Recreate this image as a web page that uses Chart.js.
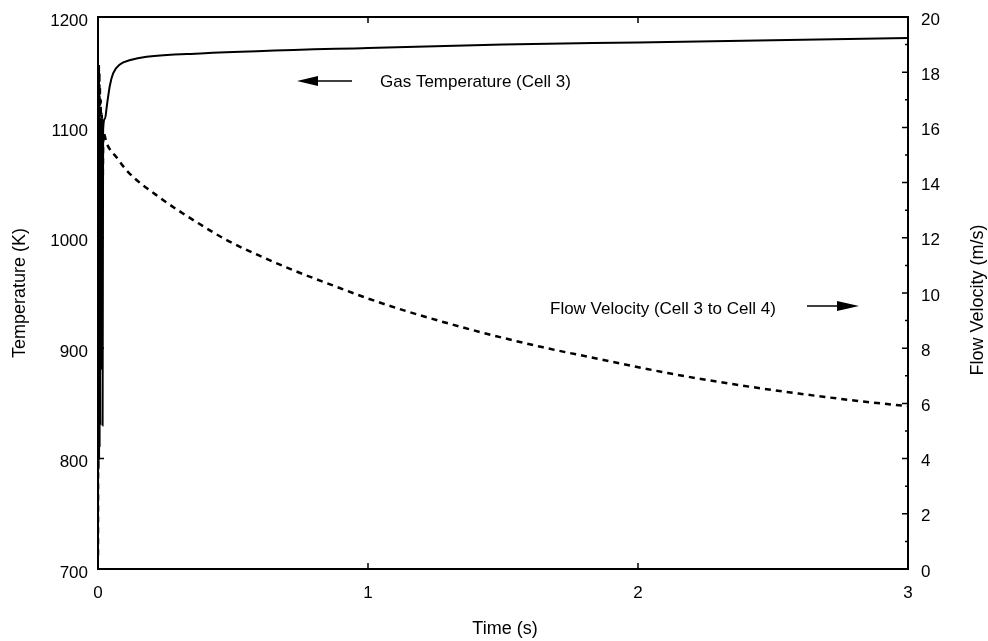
<!DOCTYPE html>
<html>
<head>
<meta charset="utf-8">
<script src="https://cdn.jsdelivr.net/npm/chart.js@4.4.1/dist/chart.umd.min.js"></script>
<style>
  body { margin: 0; background: #fff; }
  #wrap { width: 988px; height: 641px; }
</style>
</head>
<body>
<div id="wrap"><canvas id="flowChart" width="988" height="641"></canvas></div>
<script>
// gas temperature in cell 3 (K) vs time (s)
const tempTime = [0, 0.001, 0.002, 0.003, 0.004, 0.005, 0.006, 0.007, 0.008, 0.009, 0.010, 0.012, 0.014, 0.016, 0.017, 0.019, 0.026, 0.033, 0.044, 0.056, 0.081, 0.12, 0.18, 0.38, 1.0, 1.5, 2.0, 2.5, 3.0];
const tempK    = [700, 1040, 790, 1090, 800, 1100, 810, 1095, 830, 1100, 880, 1100, 960, 1090, 830, 1098, 1108, 1120, 1138, 1149, 1157, 1161, 1164, 1167, 1172, 1175, 1177, 1179, 1181];

// flow velocity cell 3 -> cell 4 (m/s) vs time (s)
const velTime = [0, 0.001, 0.002, 0.003, 0.004, 0.005, 0.006, 0.007, 0.008, 0.010, 0.012, 0.014, 0.016, 0.020, 0.033, 0.07, 0.11, 0.237, 0.36, 0.48, 0.61, 0.73, 0.89, 1.0, 1.14, 1.39, 1.64, 1.86, 2.11, 2.35, 2.6, 2.85, 3.0];
const velocity = [0.5, 17, 4, 18.3, 6, 18, 8, 17.5, 9, 17, 11, 16.5, 13, 15.8, 15.4, 14.9, 14.4, 13.4, 12.6, 11.9, 11.3, 10.8, 10.2, 9.8, 9.35, 8.65, 8.05, 7.6, 7.1, 6.7, 6.35, 6.05, 5.9];

const xTicks = [0, 1, 2, 3];
const tempTicks = [700, 800, 900, 1000, 1100, 1200];
const velTicks = [0, 2, 4, 6, 8, 10, 12, 14, 16, 18, 20];

const font = 'Liberation Sans, Arial, sans-serif';

const framePlugin = {
    id: 'frame',
    afterDraw(chart) {
        const c = chart.ctx;
        const a = chart.chartArea;
        const xs = chart.scales.x, yl = chart.scales.yT, yr = chart.scales.yV;
        c.save();
        c.strokeStyle = '#000';
        c.fillStyle = '#000';
        c.lineWidth = 2;
        c.strokeRect(a.left, a.top, a.right - a.left, a.bottom - a.top);

        // inward ticks
        c.lineWidth = 1.5;
        c.beginPath();
        tempTicks.forEach(v => {
            const y = yl.getPixelForValue(v);
            c.moveTo(a.left, y); c.lineTo(a.left + 6, y);
        });
        for (let v = 0; v <= 20; v++) {
            const y = yr.getPixelForValue(v);
            const len = velTicks.includes(v) ? 6 : 3;
            c.moveTo(a.right, y); c.lineTo(a.right - len, y);
        }
        xTicks.forEach(v => {
            const x = xs.getPixelForValue(v);
            c.moveTo(x, a.bottom); c.lineTo(x, a.bottom - 6);
            c.moveTo(x, a.top); c.lineTo(x, a.top + 6);
        });
        c.stroke();

        // annotations
        c.font = '17px ' + font;
        c.textBaseline = 'middle';
        c.textAlign = 'left';
        c.fillText('Gas Temperature (Cell 3)', 380, 82);
        c.fillText('Flow Velocity (Cell 3 to Cell 4)', 550, 309);

        c.lineWidth = 1.5;
        c.beginPath();
        c.moveTo(316, 81); c.lineTo(352, 81);
        c.moveTo(807, 306); c.lineTo(840, 306);
        c.stroke();
        c.beginPath();
        c.moveTo(297, 81); c.lineTo(318, 76); c.lineTo(318, 86); c.closePath();
        c.fill();
        c.beginPath();
        c.moveTo(859, 306); c.lineTo(837, 301); c.lineTo(837, 311); c.closePath();
        c.fill();

        // axis titles
        c.font = '18px ' + font;
        c.textAlign = 'center';
        c.fillText('Time (s)', 505, 629);
        c.save();
        c.translate(20, 293);
        c.rotate(-Math.PI / 2);
        c.fillText('Temperature (K)', 0, 0);
        c.restore();
        c.save();
        c.translate(978, 300);
        c.rotate(-Math.PI / 2);
        c.fillText('Flow Velocity (m/s)', 0, 0);
        c.restore();
        c.restore();
    }
};

const tickFont = { family: font, size: 17 };
const plain = v => String(v);
const fitY = w => s => { s.width = w; s.paddingTop = 0; s.paddingBottom = 0; };

window.onload = function() {
    const ctx = document.getElementById('flowChart').getContext('2d');
    const flowChart = new Chart(ctx, {
        type: 'line',
        data: {
            datasets: [{
                label: 'Gas Temperature (Cell 3)',
                data: tempTime.map((t, i) => ({ x: t, y: tempK[i] })),
                yAxisID: 'yT',
                borderColor: '#000',
                borderWidth: 2,
                pointRadius: 0,
                cubicInterpolationMode: 'monotone',
                fill: false
            }, {
                label: 'Flow Velocity (Cell 3 to Cell 4)',
                data: velTime.map((t, i) => ({ x: t, y: velocity[i] })),
                yAxisID: 'yV',
                borderColor: '#000',
                borderWidth: 2.5,
                borderDash: [6, 5],
                pointRadius: 0,
                cubicInterpolationMode: 'monotone',
                fill: false
            }]
        },
        options: {
            responsive: false,
            animation: false,
            layout: { padding: { top: 17, left: 0, right: 0, bottom: 0 } },
            plugins: {
                legend: { display: false },
                tooltip: { enabled: false }
            },
            scales: {
                x: {
                    type: 'linear',
                    min: 0, max: 3,
                    afterFit: s => { s.height = 72; },
                    grid: { display: false, drawTicks: false },
                    border: { display: false },
                    ticks: { stepSize: 1, padding: 14, color: '#000', font: tickFont, callback: plain }
                },
                yT: {
                    position: 'left',
                    min: 700, max: 1200,
                    afterFit: fitY(98),
                    grid: { display: false, drawTicks: false },
                    border: { display: false },
                    ticks: { stepSize: 100, padding: 10, labelOffset: 4, color: '#000', font: tickFont, callback: plain }
                },
                yV: {
                    position: 'right',
                    min: 0, max: 20,
                    afterFit: fitY(80),
                    grid: { display: false, drawTicks: false },
                    border: { display: false },
                    ticks: { stepSize: 2, padding: 13, labelOffset: 3, color: '#000', font: tickFont, callback: plain }
                }
            }
        },
        plugins: [framePlugin]
    });
};
</script>
</body>
</html>
